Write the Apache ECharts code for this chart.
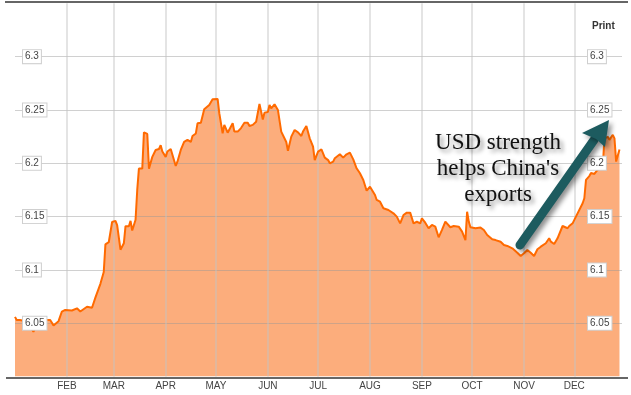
<!DOCTYPE html>
<html><head><meta charset="utf-8">
<script src="https://cdn.jsdelivr.net/npm/echarts@6/dist/echarts.min.js"></script>
<style>html,body{margin:0;padding:0;background:#fff}#c{width:631px;height:395px}</style>
</head><body><div id="c"></div>
<script>
// Month tick labels (January is not labelled in the reference)
const monthLabels = ['', 'FEB', 'MAR', 'APR', 'MAY', 'JUN', 'JUL', 'AUG', 'SEP', 'OCT', 'NOV', 'DEC'];
// Months that get a vertical grid line (0-based month index, year 2014)
const gridMonths = [1, 2, 3, 4, 5, 6, 7, 8, 9, 10, 11];
const yMin = 6.0, yMax = 6.35, yStep = 0.05;
const annotationLines = ['USD strength', "helps China's", 'exports'];

// USD/CNY readings [date, rate]
const q1 = [
  ['2014-01-01', 6.056], ['2014-01-02', 6.053], ['2014-01-04', 6.053], ['2014-01-07', 6.052],
  ['2014-01-09', 6.050], ['2014-01-12', 6.042], ['2014-01-14', 6.049], ['2014-01-16', 6.0505],
  ['2014-01-20', 6.053], ['2014-01-22', 6.053], ['2014-01-24', 6.048], ['2014-01-27', 6.052],
  ['2014-01-29', 6.061], ['2014-01-31', 6.0625], ['2014-02-04', 6.062], ['2014-02-07', 6.064],
  ['2014-02-09', 6.061], ['2014-02-13', 6.0655], ['2014-02-16', 6.0646], ['2014-02-18', 6.074],
  ['2014-02-21', 6.087], ['2014-02-23', 6.098], ['2014-02-24', 6.124], ['2014-02-26', 6.126],
  ['2014-02-28', 6.145], ['2014-03-02', 6.146], ['2014-03-03', 6.142], ['2014-03-05', 6.119],
  ['2014-03-07', 6.125], ['2014-03-08', 6.141], ['2014-03-10', 6.141], ['2014-03-11', 6.146],
  ['2014-03-12', 6.137], ['2014-03-14', 6.147], ['2014-03-15', 6.175], ['2014-03-16', 6.195],
  ['2014-03-18', 6.195], ['2014-03-19', 6.229], ['2014-03-21', 6.2275], ['2014-03-22', 6.195],
  ['2014-03-24', 6.206], ['2014-03-26', 6.2125], ['2014-03-28', 6.2134], ['2014-03-29', 6.217],
  ['2014-03-30', 6.211]
];
const q2 = [
  ['2014-04-01', 6.206], ['2014-04-02', 6.211], ['2014-04-04', 6.2134], ['2014-04-05', 6.212],
  ['2014-04-07', 6.1975], ['2014-04-08', 6.2015], ['2014-04-10', 6.2125], ['2014-04-11', 6.2115],
  ['2014-04-12', 6.220], ['2014-04-14', 6.222], ['2014-04-16', 6.220], ['2014-04-17', 6.2256],
  ['2014-04-19', 6.228], ['2014-04-20', 6.2375], ['2014-04-22', 6.238], ['2014-04-24', 6.2506],
  ['2014-04-25', 6.2516], ['2014-04-27', 6.2547], ['2014-04-29', 6.260], ['2014-05-02', 6.2603],
  ['2014-05-03', 6.247], ['2014-05-05', 6.228], ['2014-05-06', 6.236], ['2014-05-08', 6.2287],
  ['2014-05-09', 6.2287], ['2014-05-11', 6.2375], ['2014-05-12', 6.2297], ['2014-05-14', 6.2297],
  ['2014-05-16', 6.233], ['2014-05-18', 6.238], ['2014-05-20', 6.238], ['2014-05-21', 6.235],
  ['2014-05-23', 6.236], ['2014-05-25', 6.239], ['2014-05-27', 6.2556], ['2014-05-29', 6.241],
  ['2014-05-30', 6.2475], ['2014-06-01', 6.248], ['2014-06-02', 6.2547], ['2014-06-03', 6.2515],
  ['2014-06-05', 6.2553], ['2014-06-07', 6.250], ['2014-06-09', 6.2297], ['2014-06-10', 6.228],
  ['2014-06-12', 6.220], ['2014-06-13', 6.2118], ['2014-06-15', 6.225], ['2014-06-17', 6.2312],
  ['2014-06-19', 6.229], ['2014-06-21', 6.2256], ['2014-06-22', 6.2297], ['2014-06-24', 6.235],
  ['2014-06-26', 6.2234], ['2014-06-28', 6.2156], ['2014-06-29', 6.203], ['2014-06-30', 6.2016]
];
const q3 = [
  ['2014-07-01', 6.211], ['2014-07-03', 6.213], ['2014-07-05', 6.2053], ['2014-07-07', 6.203],
  ['2014-07-08', 6.200], ['2014-07-10', 6.2016], ['2014-07-11', 6.2047], ['2014-07-14', 6.2084],
  ['2014-07-16', 6.2053], ['2014-07-18', 6.2084], ['2014-07-20', 6.210], ['2014-07-22', 6.2037],
  ['2014-07-24', 6.1953], ['2014-07-26', 6.1906], ['2014-07-28', 6.1844], ['2014-07-30', 6.1743],
  ['2014-08-01', 6.178], ['2014-08-02', 6.1797], ['2014-08-04', 6.1703], ['2014-08-05', 6.1656],
  ['2014-08-07', 6.164], ['2014-08-09', 6.1578], ['2014-08-10', 6.157], ['2014-08-12', 6.1562],
  ['2014-08-13', 6.157], ['2014-08-15', 6.1531], ['2014-08-17', 6.150], ['2014-08-19', 6.1437],
  ['2014-08-21', 6.1515], ['2014-08-23', 6.1537], ['2014-08-25', 6.1537], ['2014-08-27', 6.1437],
  ['2014-08-29', 6.1452], ['2014-08-31', 6.1437], ['2014-09-01', 6.1484], ['2014-09-03', 6.1443],
  ['2014-09-05', 6.1391], ['2014-09-07', 6.1422], ['2014-09-09', 6.1406], ['2014-09-11', 6.1306],
  ['2014-09-13', 6.1375], ['2014-09-15', 6.1453], ['2014-09-16', 6.1437], ['2014-09-18', 6.140],
  ['2014-09-20', 6.1412], ['2014-09-23', 6.1406], ['2014-09-25', 6.1359], ['2014-09-27', 6.128],
  ['2014-09-28', 6.1546], ['2014-09-29', 6.1453], ['2014-09-30', 6.140]
];
const q4 = [
  ['2014-10-03', 6.139], ['2014-10-06', 6.1397], ['2014-10-08', 6.1375], ['2014-10-10', 6.1328],
  ['2014-10-13', 6.1287], ['2014-10-15', 6.128], ['2014-10-18', 6.1265], ['2014-10-20', 6.1234],
  ['2014-10-22', 6.1225], ['2014-10-25', 6.1203], ['2014-10-28', 6.1162], ['2014-10-30', 6.1131],
  ['2014-11-01', 6.1156], ['2014-11-02', 6.114], ['2014-11-03', 6.1187], ['2014-11-05', 6.1162],
  ['2014-11-07', 6.1131], ['2014-11-09', 6.1194], ['2014-11-11', 6.1218], ['2014-11-12', 6.1203],
  ['2014-11-14', 6.125], ['2014-11-16', 6.1297], ['2014-11-17', 6.1265], ['2014-11-19', 6.1243],
  ['2014-11-21', 6.1297], ['2014-11-22', 6.128], ['2014-11-24', 6.1412], ['2014-11-25', 6.140],
  ['2014-11-27', 6.1391], ['2014-11-28', 6.1412], ['2014-11-30', 6.1437], ['2014-12-02', 6.150],
  ['2014-12-03', 6.1515], ['2014-12-06', 6.1625], ['2014-12-07', 6.1672], ['2014-12-08', 6.1844],
  ['2014-12-10', 6.188], ['2014-12-11', 6.191], ['2014-12-13', 6.190], ['2014-12-15', 6.194],
  ['2014-12-16', 6.195], ['2014-12-18', 6.196], ['2014-12-19', 6.2234], ['2014-12-21', 6.2248],
  ['2014-12-22', 6.222], ['2014-12-24', 6.2266], ['2014-12-25', 6.2234], ['2014-12-26', 6.2016],
  ['2014-12-28', 6.213]
];

const seriesData = q1.concat(q2, q3, q4);
const xMin = new Date(2014, 0, 1).getTime();
const xMax = new Date(2014, 11, 29, 12).getTime();
const DAY = 86400000;
const labelFont = 'Liberation Sans, Arial, sans-serif';

const chart = echarts.init(document.getElementById('c'), null, {renderer: 'canvas'});
const boxLabel = {
  inside: true, color: '#444', fontSize: 10, fontFamily: labelFont,
  backgroundColor: '#fff', borderColor: '#cfcfcf', borderWidth: 1, padding: [2, 2, 1, 2],
  showMinLabel: false, showMaxLabel: false
};
chart.setOption({
  animation: false,
  backgroundColor: '#fff',
  grid: {left: 15, right: 9, top: 3.3, bottom: 18.4},
  title: {text: 'Print', left: 587, top: 16, textStyle: {fontSize: 10, fontWeight: 'bold', color: '#333', fontFamily: labelFont}},
  xAxis: {
    type: 'time', min: xMin, max: xMax, z: 3,
    minInterval: 28 * DAY, maxInterval: 31 * DAY, splitNumber: 12,
    axisLine: {show: false}, axisTick: {show: false},
    axisLabel: {
      formatter: v => monthLabels[new Date(v).getMonth()],
      color: '#444', fontSize: 10, fontFamily: labelFont, margin: 5,
      showMinLabel: false, showMaxLabel: false, hideOverlap: false
    },
    splitLine: {show: false}
  },
  yAxis: [
    {type: 'value', min: yMin, max: yMax, interval: yStep, z: 3,
     axisLine: {show: false}, axisTick: {show: false}, axisLabel: {show: false},
     splitLine: {show: true, showMinLine: false, showMaxLine: false, lineStyle: {color: 'rgba(150,150,150,0.45)', width: 1}}},
    {type: 'value', position: 'left', min: yMin, max: yMax, interval: yStep, z: 10,
     axisLine: {show: false}, axisTick: {show: false}, splitLine: {show: false},
     axisLabel: Object.assign({}, boxLabel, {margin: 8})},
    {type: 'value', position: 'right', min: yMin, max: yMax, interval: yStep, z: 10,
     axisLine: {show: false}, axisTick: {show: false}, splitLine: {show: false},
     axisLabel: Object.assign({}, boxLabel, {margin: 34, align: 'left'})}
  ],
  series: [
    {type: 'line', data: seriesData, symbol: 'none', z: 1, silent: true, color: '#fcad7c',
     lineStyle: {width: 0, color: '#fcad7c'}, areaStyle: {color: '#fcad7c', opacity: 1},
     markLine: {
       silent: true, symbol: 'none', z: 3, label: {show: false}, emphasis: {disabled: true},
       lineStyle: {color: 'rgba(195,195,195,0.45)', width: 2, type: 'solid'},
       data: gridMonths.map(m => ({xAxis: new Date(2014, m, 1).getTime()}))
     }},
    {type: 'line', data: seriesData, symbol: 'none', z: 5,
     lineStyle: {color: '#ff6a00', width: 2}}
  ],
  graphic: [
    {type: 'line', z: 20, shape: {x1: 5, y1: 2, x2: 628, y2: 2}, style: {stroke: '#333', lineWidth: 1.5}},
    {type: 'line', z: 20, shape: {x1: 6, y1: 378, x2: 628, y2: 378}, style: {stroke: '#333', lineWidth: 1.5}},
    {type: 'text', z: 30, x: 498, y: 169,
     style: {text: annotationLines.join('\n'), font: '23px "Liberation Serif", "Times New Roman", serif',
       fill: '#111', align: 'center', verticalAlign: 'middle', lineHeight: 26,
       textShadowColor: 'rgba(0,0,0,0.45)', textShadowBlur: 4, textShadowOffsetX: 3, textShadowOffsetY: 3}},
    {type: 'polyline', z: 30, shape: {points: [[520, 245], [594, 140]]},
     style: {stroke: '#1d5b5f', lineWidth: 9, lineCap: 'round', fill: null,
       shadowColor: 'rgba(0,0,0,0.45)', shadowBlur: 5, shadowOffsetX: 3, shadowOffsetY: 3}},
    {type: 'polygon', z: 30, shape: {points: [[609, 120], [582, 133], [596, 139], [605, 147]]},
     style: {fill: '#1d5b5f', shadowColor: 'rgba(0,0,0,0.45)', shadowBlur: 5, shadowOffsetX: 3, shadowOffsetY: 3}}
  ]
});
</script></body></html>
